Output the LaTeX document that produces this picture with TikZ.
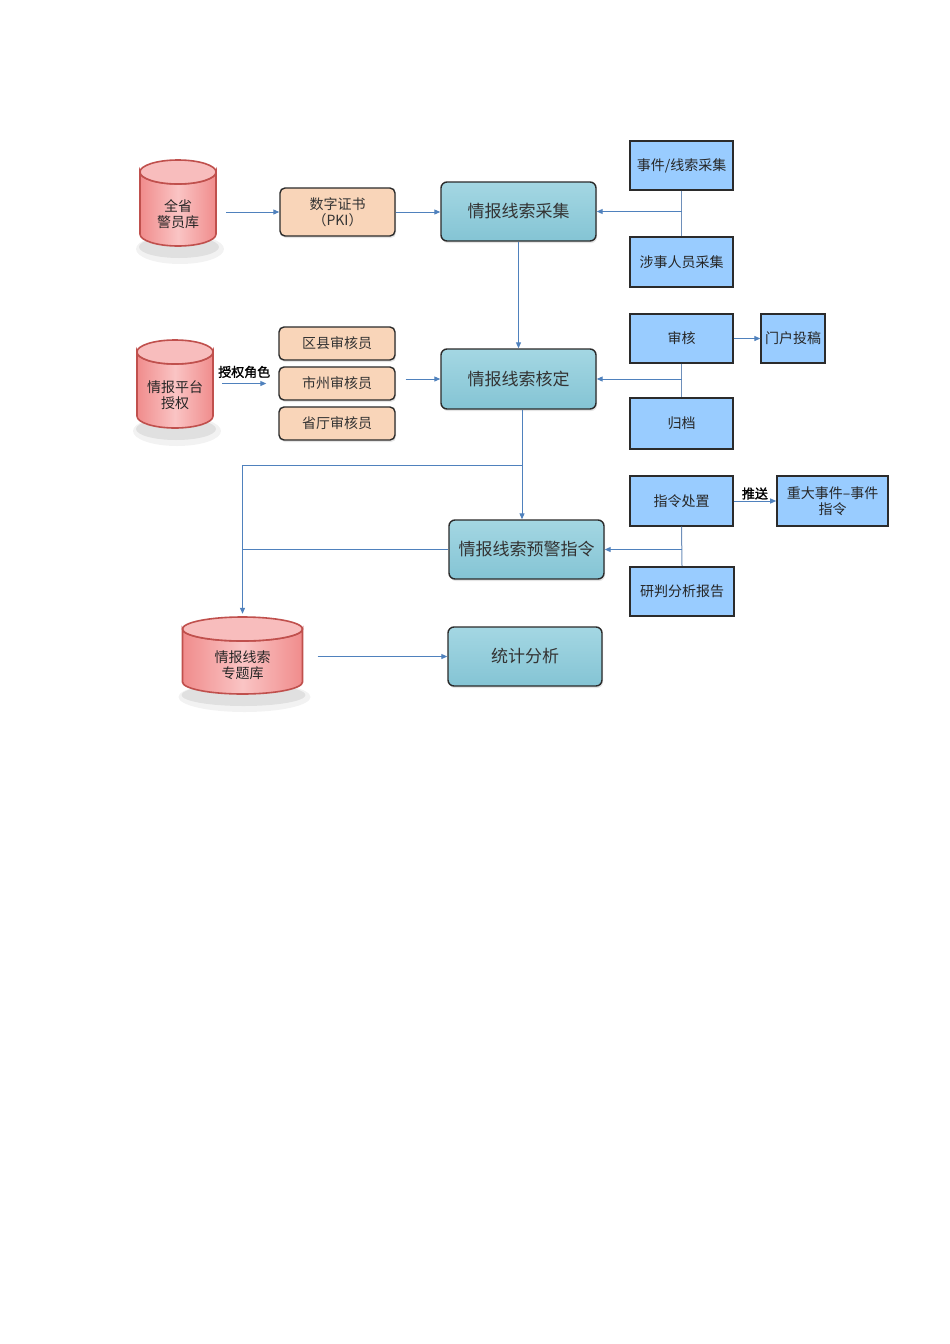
\documentclass[tikz,border=0pt]{standalone}
\usepackage{fontspec}
\newfontfamily\cjk{Noto Sans CJK SC}
\newfontfamily\cjkb[FakeBold=1.5]{Noto Sans CJK SC}
\usetikzlibrary{arrows.meta,shadows}
\definecolor{lineblue}{HTML}{4F81BD}
\definecolor{connblue}{HTML}{6E8FBA}
\definecolor{tealA}{HTML}{A4D7E3}
\definecolor{tealB}{HTML}{84C4D4}
\definecolor{peach}{HTML}{F9D5B9}
\definecolor{boxblue}{HTML}{99CCFF}
\definecolor{dbred}{HTML}{F08C8C}
\definecolor{dblight}{HTML}{FAC4C4}
\definecolor{dbtopc}{HTML}{F8BDBD}
\definecolor{dbline}{HTML}{C0504D}
\definecolor{boxline}{HTML}{2B2B2B}
\newcommand\mydb[7]{% name, cx, ytop, ybot, rx, ytext, text
  \fill[black,opacity=0.05] (#2+2,#4+3) ellipse[x radius=#5+6, y radius=15];
  \fill[black,opacity=0.07] (#2+1,#4+1) ellipse[x radius=#5+2, y radius=11];
  \path[dbbody] (#2-#5,#3+12) -- (#2-#5,#4-12) arc[start angle=180,end angle=0,x radius=#5,y radius=12] -- (#2+#5,#3+12) arc[start angle=0,end angle=180,x radius=#5,y radius=12] -- cycle;
  \path[dbtopst] (#2,#3+12) ellipse[x radius=#5, y radius=12];
  \node[inner sep=0pt, minimum width=2*#5 pt, minimum height=#4-#3 pt] (#1) at (#2,{(#3+#4)/2}) {};
  \node[dbtext] at (#2,#6) {#7};
}
\begin{document}
\begin{tikzpicture}[x=1pt,y=-1pt,
  dbbody/.style={draw=dbline, line width=1.6pt, left color=dbred, right color=dbred, middle color=dblight},
  dbtopst/.style={draw=dbline, line width=1.6pt, fill=dbtopc},
  dbtext/.style={font=\cjk\fontsize{14}{16}\selectfont, align=center, text=black!85},
  tealbox/.style={draw=boxline, line width=1.4pt, rounded corners=6pt, top color=tealA, bottom color=tealB,
     minimum width=155pt, minimum height=59pt, inner sep=2pt, font=\cjk\fontsize{17}{19}\selectfont, text=black!80,
     drop shadow={opacity=0.2, shadow xshift=1pt, shadow yshift=-2pt}},
  peachbox/.style={draw=boxline, line width=1.4pt, rounded corners=5pt, fill=peach,
     minimum width=116pt, minimum height=33pt, inner sep=2pt, align=center, font=\cjk\fontsize{14}{16}\selectfont, text=black!80,
     drop shadow={opacity=0.2, shadow xshift=1pt, shadow yshift=-2pt}},
  bluebox/.style={draw=boxline, line width=1.3pt, fill=boxblue,
     minimum width=103pt, minimum height=49pt, inner sep=2pt, align=center, font=\cjk\fontsize{14}{16}\selectfont, text=black!85},
  arr/.style={draw=lineblue, line width=1pt, -{Triangle[length=6pt,width=5pt]}},
  conn/.style={draw=connblue, line width=1pt},
  lab/.style={font=\cjkb\fontsize{13}{15}\selectfont, text=black, inner sep=1pt}
]
\useasboundingbox (0,0) rectangle (950,1344);
\fill[white] (0,0) rectangle (950,1344);

% databases
\mydb{db1}{178}{160}{246}{38}{214}{全省\\警员库}
\mydb{db2}{175}{340}{428}{38}{395}{情报平台\\授权}
\mydb{db3}{242.5}{617}{694}{60}{665}{情报线索\\专题库}

% main flow boxes
\node[peachbox, minimum width=115pt, minimum height=48pt] (pki) at (337.5,212) {数字证书\\（PKI）};
\node[tealbox] (collect) at (518.5,211.5) {情报线索采集};
\node[tealbox, minimum height=60pt] (verify) at (518.5,379) {情报线索核定};
\node[tealbox] (warn) at (526.5,549.5) {情报线索预警指令};
\node[tealbox, minimum width=154pt] (stat) at (525,656.5) {统计分析};

\node[peachbox] (qx) at (337,343.5) {区县审核员};
\node[peachbox] (sz) at (337,383.5) {市州审核员};
\node[peachbox] (st) at (337,423.5) {省厅审核员};

% side blue boxes
\node[bluebox] (ev) at (681.5,165.5) {事件/线索采集};
\node[bluebox, minimum height=50pt] (person) at (681.5,262) {涉事人员采集};
\node[bluebox] (audit) at (681.5,338.5) {审核};
\node[bluebox, minimum width=64pt] (portal) at (793,338.5) {门户投稿};
\node[bluebox, minimum height=51pt] (archive) at (681.5,423.5) {归档};
\node[bluebox, minimum height=50pt] (cmd) at (681.5,501) {指令处置};
\node[bluebox, minimum width=111pt, minimum height=50pt, line width=1.6pt] (major) at (832.5,501) {重大事件–事件\\指令};
\node[bluebox, minimum width=104pt, line width=2.4pt] (report) at (682,591.5) {研判分析报告};

% connectors
\draw[arr] ([xshift=10pt]db1.east |- pki.west) -- (pki.west);
\draw[arr] (pki.east) -- (pki.east -| collect.west);
\draw[conn] (ev.south) -- (person.north);
\draw[arr] (ev.south |- collect.east) -- (collect.east);
\draw[arr] (collect.south) -- (verify.north);

\draw[arr] ([xshift=9pt]db2.east |- sz.west) -- node[lab, above=4pt] {授权角色} ([xshift=-12pt]sz.west);
\draw[arr] ([xshift=10pt]sz.east |- verify.west) -- (verify.west);
\draw[arr] (audit.east) -- (portal.west);
\draw[conn] (audit.south) -- (archive.north);
\draw[arr] (audit.south |- verify.east) -- (verify.east);

\coordinate (vs) at ([xshift=3.5pt]verify.south);
\coordinate (j1) at ([yshift=-56pt]vs);
\draw[arr] (vs) -- (vs |- warn.north);
\draw[arr] (j1) -| ([yshift=3pt]db3.north);
\draw[conn, draw=lineblue] (warn.west) -- (warn.west -| db3.north);

\draw[arr] (cmd.east) -- node[lab, above=0pt] {推送} (major.west);
\draw[conn] (cmd.south) -- (report.north);
\draw[arr] (cmd.south |- warn.east) -- (warn.east);

\draw[arr] ([xshift=15pt]db3.east |- stat.west) -- (stat.west);
\end{tikzpicture}
\end{document}
